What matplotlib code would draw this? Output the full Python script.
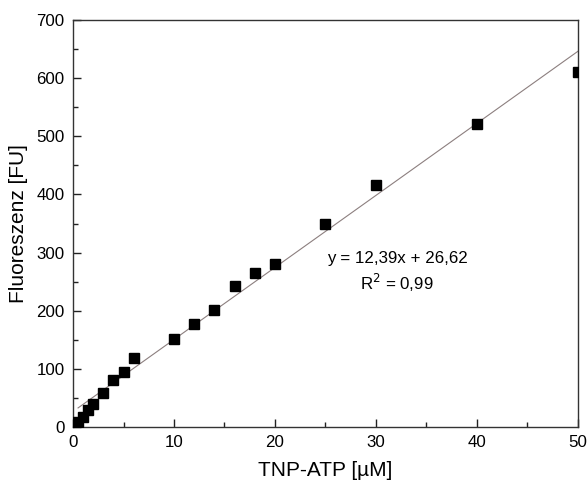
import numpy as np
import matplotlib.pyplot as plt
from matplotlib.ticker import MultipleLocator

plt.rcParams['font.family'] = ['Liberation Sans', 'DejaVu Sans']

# TNP-ATP Konzentration [µM] und Fluoreszenz [FU]
conc = [0.5, 1, 1.5, 2, 3, 4, 5, 6, 10, 12, 14, 16, 18, 20, 25, 30, 40, 50]
fluor = [9, 18, 30, 40, 59, 80, 95, 119, 151, 177, 201, 243, 265, 280, 349, 416, 522, 611]

# lineare Regression (Werte aus dem Diagramm)
slope, intercept = 12.39, 26.62
fit_label = "y = 12,39x + 26,62\nR$^2$ = 0,99"

fig = plt.figure(figsize=(5.87, 4.87), dpi=100)
ax = fig.add_axes([0.1244, 0.1232, 0.860, 0.8357])

xfit = np.linspace(0.5, 50, 100)
ax.plot(xfit, slope * xfit + intercept, color='#8c7f7f', lw=0.8, zorder=2)
ax.plot(conc, fluor, 's', color='black', ms=6.5, zorder=3)

ax.set_xlim(0, 50)
ax.set_ylim(0, 700)
ax.xaxis.set_major_locator(MultipleLocator(10))
ax.xaxis.set_minor_locator(MultipleLocator(5))
ax.yaxis.set_major_locator(MultipleLocator(100))
ax.yaxis.set_minor_locator(MultipleLocator(50))
ax.tick_params(which='both', direction='in', top=False, right=False,
               labelsize=12.2, color='#222222')
ax.tick_params(which='major', length=6, width=1, pad=6)
ax.tick_params(which='minor', length=3.5, width=1)
for s in ax.spines.values():
    s.set_linewidth(1)
    s.set_color('#333333')

ax.set_xlabel('TNP-ATP [µM]', fontsize=15, labelpad=8)
ax.set_ylabel('Fluoreszenz [FU]', fontsize=15, labelpad=6)

ax.text(32.1, 266, fit_label, fontsize=12.2, ha='center', va='center',
        linespacing=1.35)

fig.savefig('out.png', dpi=100)
